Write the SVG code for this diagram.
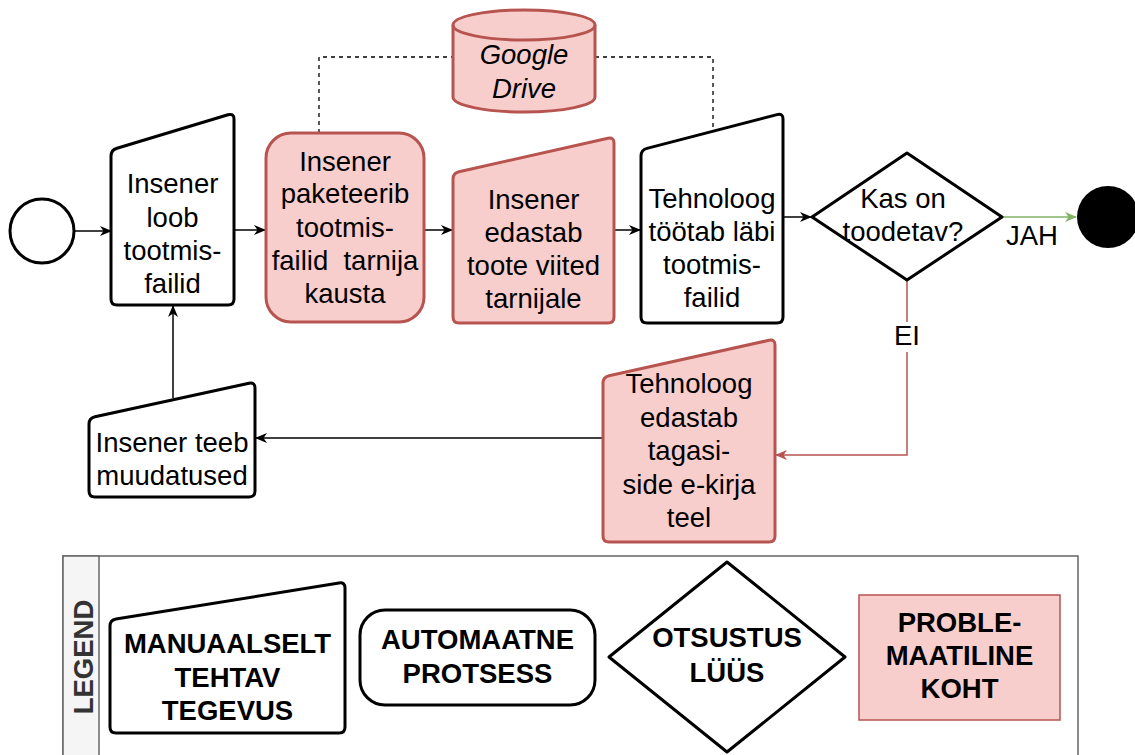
<svg xmlns="http://www.w3.org/2000/svg" width="1135" height="755" viewBox="0 0 1135 755">
  <defs>
    <style>
      .node { stroke: #000000; stroke-width: 3; fill: #ffffff; stroke-linejoin: round; }
      .prob { fill: #f8cecc; stroke: #b85450; stroke-width: 3; stroke-linejoin: round; }
      .lbl { font-family: "Liberation Sans", Arial, sans-serif; font-size: 27.5px; fill: #000000; text-anchor: middle; }
      .bold { font-weight: bold; }
      .conn { fill: none; stroke: #000000; stroke-width: 1.5; }
      .dash { fill: none; stroke: #000000; stroke-width: 1.3; stroke-dasharray: 4 4; }
    </style>
    <marker id="arrBlack" viewBox="0 0 12 10" refX="11" refY="5" markerWidth="12" markerHeight="10" markerUnits="userSpaceOnUse" orient="auto">
      <path d="M0,0 L12,5 L0,10 L3.5,5 Z" fill="#000000"/>
    </marker>
    <marker id="arrGreen" viewBox="0 0 12 10" refX="11" refY="5" markerWidth="12" markerHeight="10" markerUnits="userSpaceOnUse" orient="auto">
      <path d="M0,0 L12,5 L0,10 L3.5,5 Z" fill="#82b366"/>
    </marker>
    <marker id="arrRed" viewBox="0 0 12 10" refX="11" refY="5" markerWidth="12" markerHeight="10" markerUnits="userSpaceOnUse" orient="auto">
      <path d="M0,0 L12,5 L0,10 L3.5,5 Z" fill="#b85450"/>
    </marker>
  </defs>

  <rect x="0" y="0" width="1135" height="755" fill="#ffffff"/>

  <!-- connectors -->
  <g id="connectors">
    <path class="dash" d="M319,133 L319,57 L453,57"/>
    <path class="dash" d="M595,57 L713,57 L713,131"/>
    <path class="conn" d="M74,231 L111,231" marker-end="url(#arrBlack)"/>
    <path class="conn" d="M234,230 L265,230" marker-end="url(#arrBlack)"/>
    <path class="conn" d="M424,230 L452,230" marker-end="url(#arrBlack)"/>
    <path class="conn" d="M614,230 L640,230" marker-end="url(#arrBlack)"/>
    <path class="conn" d="M783,217 L811,217" marker-end="url(#arrBlack)"/>
    <path class="conn" style="stroke:#82b366" d="M1002,217 L1076,217" marker-end="url(#arrGreen)"/>
    <path class="conn" style="stroke:#b85450" d="M907,280 L907,455 L776,455" marker-end="url(#arrRed)"/>
    <path class="conn" d="M603,438 L256,438" marker-end="url(#arrBlack)"/>
    <path class="conn" d="M173,398 L173,306" marker-end="url(#arrBlack)"/>
    <text class="lbl" x="1032" y="245">JAH</text>
    <rect x="890" y="322" width="34" height="30" fill="#ffffff"/>
    <text class="lbl" x="907" y="345">EI</text>
  </g>

  <!-- start event -->
  <g id="start">
    <circle cx="42" cy="231" r="32" fill="#ffffff" stroke="#000000" stroke-width="3"/>
  </g>

  <!-- Insener loob tootmisfailid -->
  <g id="n1">
    <path class="node" d="M111,156 Q111,150 117,148.2 L228,114.8 Q234,113 234,119 L234,299 Q234,305 228,305 L117,305 Q111,305 111,299 Z"/>
    <text class="lbl" x="172.5" y="193">Insener</text>
    <text class="lbl" x="172.5" y="226.5">loob</text>
    <text class="lbl" x="172.5" y="260">tootmis-</text>
    <text class="lbl" x="172.5" y="293">failid</text>
  </g>

  <!-- Insener paketeerib -->
  <g id="n2">
    <rect class="prob" x="266" y="133" width="158" height="189" rx="25" ry="25"/>
    <text class="lbl" x="345" y="170.5">Insener</text>
    <text class="lbl" x="345" y="203">paketeerib</text>
    <text class="lbl" x="345" y="236.5">tootmis-</text>
    <text class="lbl" x="345" y="270" style="white-space:pre">failid  tarnija</text>
    <text class="lbl" x="345" y="303">kausta</text>
  </g>

  <!-- Google Drive -->
  <g id="gdrive">
    <path class="prob" d="M453,25 A71,15 0 0 1 595,25 L595,97 A71,15 0 0 1 453,97 Z"/>
    <path class="prob" style="fill:none" d="M453,25 A71,15 0 0 0 595,25"/>
    <text class="lbl" x="524" y="64" font-style="italic">Google</text>
    <text class="lbl" x="524" y="98" font-style="italic">Drive</text>
  </g>

  <!-- Insener edastab toote viited -->
  <g id="n3">
    <path class="prob" d="M453,179 Q453,173 459,171.7 L608,138.3 Q614,137 614,143 L614,317 Q614,323 608,323 L459,323 Q453,323 453,317 Z"/>
    <text class="lbl" x="533.5" y="209">Insener</text>
    <text class="lbl" x="533.5" y="242">edastab</text>
    <text class="lbl" x="533.5" y="275">toote viited</text>
    <text class="lbl" x="533.5" y="308">tarnijale</text>
  </g>

  <!-- Tehnoloog töötab läbi -->
  <g id="n4">
    <path class="node" d="M641,156 Q641,150 647,148.4 L777,114.6 Q783,113 783,119 L783,317 Q783,323 777,323 L647,323 Q641,323 641,317 Z"/>
    <text class="lbl" x="712" y="208">Tehnoloog</text>
    <text class="lbl" x="712" y="241">töötab läbi</text>
    <text class="lbl" x="712" y="274">tootmis-</text>
    <text class="lbl" x="712" y="307">failid</text>
  </g>

  <!-- decision -->
  <g id="decision">
    <path class="node" d="M812,217 L907,153 L1002,217 L907,280 Z"/>
    <text class="lbl" x="903" y="208">Kas on</text>
    <text class="lbl" x="903" y="241">toodetav?</text>
  </g>

  <!-- end event -->
  <g id="end">
    <circle cx="1108" cy="217" r="31" fill="#000000"/>
  </g>

  <!-- Tehnoloog edastab tagasiside -->
  <g id="n5">
    <path class="prob" d="M603,383 Q603,377 609,375.7 L769,340.3 Q775,339 775,345 L775,536 Q775,542 769,542 L609,542 Q603,542 603,536 Z"/>
    <text class="lbl" x="689" y="393">Tehnoloog</text>
    <text class="lbl" x="689" y="427">edastab</text>
    <text class="lbl" x="689" y="460">tagasi-</text>
    <text class="lbl" x="689" y="494">side e-kirja</text>
    <text class="lbl" x="689" y="527">teel</text>
  </g>

  <!-- Insener teeb muudatused -->
  <g id="n6">
    <path class="node" d="M89,424 Q89,418 95,416.7 L249,383.3 Q255,382 255,388 L255,491 Q255,497 249,497 L95,497 Q89,497 89,491 Z"/>
    <text class="lbl" x="172" y="452">Insener teeb</text>
    <text class="lbl" x="172" y="485">muudatused</text>
  </g>

  <!-- legend -->
  <g id="legend">
    <rect x="63" y="556" width="1015" height="210" fill="#ffffff" stroke="#666666" stroke-width="1.5"/>
    <rect x="63" y="556" width="36" height="210" fill="#f5f5f5" stroke="#666666" stroke-width="1.5"/>
    <text class="lbl bold" x="81" y="669" style="fill:#333333" transform="rotate(-90 81 657)">LEGEND</text>
  </g>

  <g id="legend-manual">
    <path class="node" d="M110,626 Q110,620 116,619 L339,583 Q345,582 345,588 L345,727 Q345,733 339,733 L116,733 Q110,733 110,727 Z"/>
    <text class="lbl bold" x="227.5" y="653">MANUAALSELT</text>
    <text class="lbl bold" x="227.5" y="687">TEHTAV</text>
    <text class="lbl bold" x="227.5" y="720">TEGEVUS</text>
  </g>

  <g id="legend-auto">
    <rect class="node" x="360" y="610" width="235" height="95" rx="25" ry="25"/>
    <text class="lbl bold" x="477.5" y="649">AUTOMAATNE</text>
    <text class="lbl bold" x="477.5" y="683">PROTSESS</text>
  </g>

  <g id="legend-decision">
    <path class="node" d="M609,657 L727,562 L845,657 L727,752 Z"/>
    <text class="lbl bold" x="727" y="647">OTSUSTUS</text>
    <text class="lbl bold" x="727" y="682">LÜÜS</text>
  </g>

  <g id="legend-problem">
    <rect x="859" y="595" width="201" height="125" fill="#f8cecc" stroke="#b85450" stroke-width="1.5"/>
    <text class="lbl bold" x="959.5" y="632">PROBLE-</text>
    <text class="lbl bold" x="959.5" y="665">MAATILINE</text>
    <text class="lbl bold" x="959.5" y="698">KOHT</text>
  </g>
</svg>
